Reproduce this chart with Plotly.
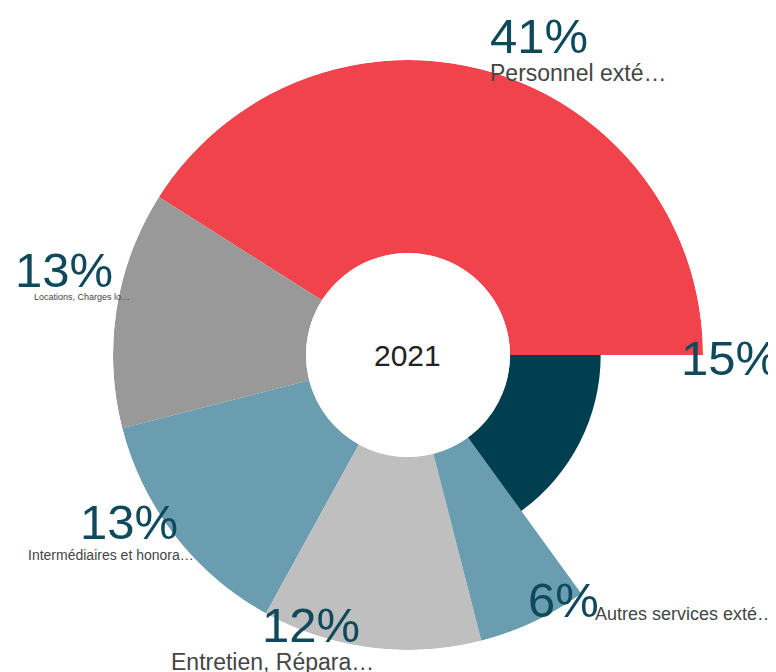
import plotly.graph_objects as go

# Data
categories = [
    "Personnel extérieur",
    "Locations, Charges locatives",
    "Intermédiaires et honoraires",
    "Entretien, Réparations",
    "Autres services extérieurs",
    "Autres",
]
shares = [41, 13, 13, 12, 6, 15]          # percent of total
radius = [100, 100, 100, 100, 100, 47]     # relative outer radius of each slice
short_labels = [
    "Personnel exté…",
    "Locations, Charges lo…",
    "Intermédiaires et honora…",
    "Entretien, Répara…",
    "Autres services exté…",
    "Au",
]
center_label = "2021"

colors = ["#F0434B", "#999999", "#6A9DAF", "#BFBFBF", "#6A9DAF", "#003F4F"]

W, H = 776, 672
OFF = 8  # page body margin offset

# slice angles (counter-clockwise from east)
total = sum(shares)
widths = [s / total * 360 for s in shares]
mids = []
acc = 0
for w in widths:
    mids.append(acc + w / 2)
    acc += w

fig = go.Figure()
fig.add_trace(go.Barpolar(
    r=radius,
    theta=mids,
    width=widths,
    marker=dict(color=colors, line=dict(width=0)),
    text=categories,
    hovertemplate="%{text}<extra></extra>",
    showlegend=False,
))

cx, cy, R = 408 - OFF, 355 - OFF, 295
fig.update_layout(
    width=W, height=H,
    margin=dict(l=0, r=0, t=0, b=0),
    paper_bgcolor="white",
    plot_bgcolor="white",
    polar=dict(
        domain=dict(x=[(cx - R) / W, (cx + R) / W], y=[1 - (cy + R) / H, 1 - (cy - R) / H]),
        hole=102 / 295,
        bgcolor="white",
        radialaxis=dict(visible=False, range=[0, 100]),
        angularaxis=dict(visible=False, rotation=0, direction="counterclockwise", thetaunit="degrees"),
    ),
    font=dict(family="Liberation Sans, Arial, sans-serif"),
)

pct_color = "#0E4A5C"
lab_color = "#454545"

# label layout (page pixels): (pct x, pct anchor, pct y center, label x, label anchor, label y center, label size)
label_layout = [
    (489, "left", 36, 489, "left", 73, 23),      # Personnel
    (114, "right", 270, 82, "center", 297, 9),   # Locations
    (179, "right", 522, 111, "center", 555, 14), # Intermédiaires
    (361, "right", 625, 272, "center", 662, 23), # Entretien
    (527, "left", 600, 594, "left", 614, 18),    # Autres services
    (680, "left", 358, 767, "left", 381, 7),     # Autres
]

for s, lab, (px, pa, py, lx, la, ly, ls) in zip(shares, short_labels, label_layout):
    fig.add_annotation(
        x=(px - OFF) / W, y=1 - (py - OFF) / H, xref="paper", yref="paper",
        text=f"{s}%", showarrow=False, xanchor=pa, yanchor="middle",
        font=dict(size=49, color=pct_color), borderpad=0,
    )
    fig.add_annotation(
        x=(lx - OFF) / W, y=1 - (ly - OFF) / H, xref="paper", yref="paper",
        text=lab, showarrow=False, xanchor=la, yanchor="middle",
        font=dict(size=ls, color=lab_color), borderpad=0,
    )

fig.add_annotation(
    x=cx / W, y=1 - cy / H, xref="paper", yref="paper",
    text=center_label, showarrow=False, xanchor="center", yanchor="middle",
    font=dict(size=30, color="#222222"),
)

fig.write_html("out.html")
